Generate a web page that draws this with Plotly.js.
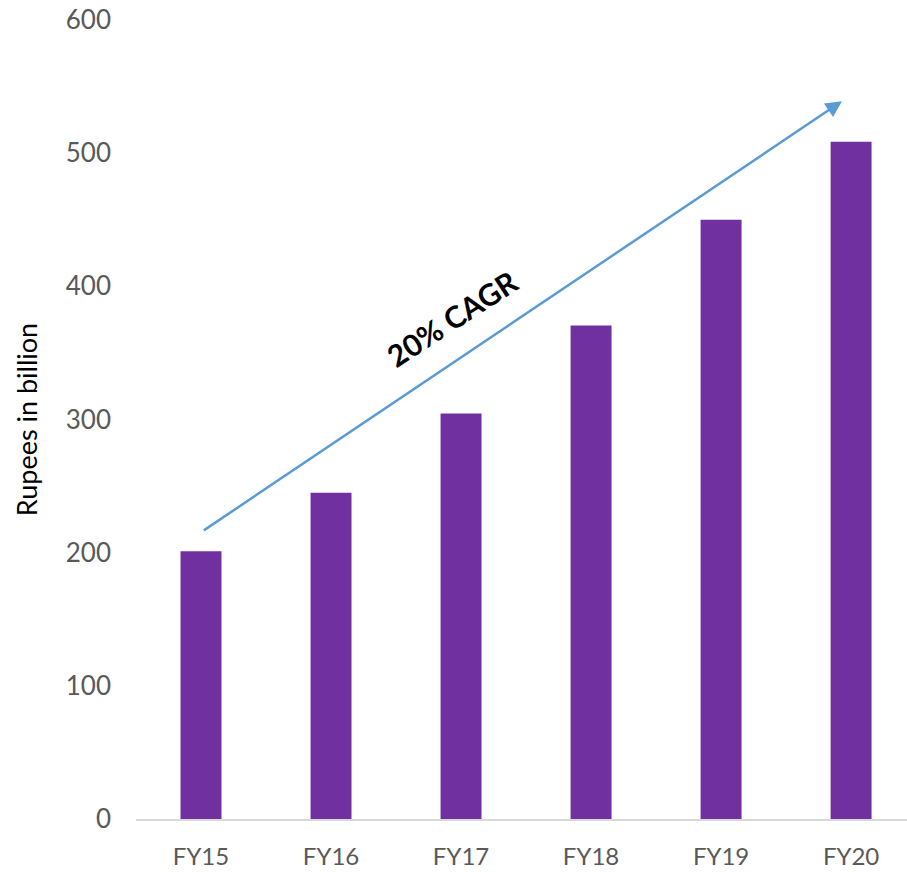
<!DOCTYPE html>
<html>
<head>
<meta charset="utf-8">
<script src="https://cdn.plot.ly/plotly-3.0.1.min.js"></script>
<style>html,body{margin:0;padding:0;overflow:hidden;background:#fff;}</style>
</head>
<body>
<div id="chart" style="width:907px;height:872px;"></div>
<script>
const categories = ["FY15", "FY16", "FY17", "FY18", "FY19", "FY20"];
const values = [201, 245, 304.5, 370.5, 450, 508.5];
const yTicks = [0, 100, 200, 300, 400, 500, 600];
const arrowStart = {x: 0.01, y: 216};
const arrowEnd = {x: 4.93, y: 539};
const cagrLabel = "20% CAGR";
const cagrPos = {x: 1.93, y: 376};

const font = "Lato, 'Open Sans', sans-serif";

Plotly.newPlot("chart", [{
  type: "bar",
  x: categories,
  y: values,
  marker: {color: "#7030a0"},
  hoverinfo: "skip"
}], {
  width: 907,
  height: 872,
  margin: {l: 136, r: 0, t: 20, b: 52.5},
  paper_bgcolor: "#fff",
  plot_bgcolor: "#fff",
  bargap: 0.685,
  showlegend: false,
  xaxis: {
    type: "category",
    range: [-0.5, 5.43],
    showgrid: false,
    zeroline: false,
    showline: true,
    linecolor: "#d9d9d9",
    linewidth: 1.5,
    ticks: "",
    ticklabelstandoff: 16,
    tickfont: {family: font, size: 24, color: "#595959"}
  },
  yaxis: {
    range: [0, 600],
    tickvals: yTicks,
    showgrid: false,
    zeroline: false,
    showline: false,
    ticks: "",
    ticklabelstandoff: 24,
    tickfont: {family: font, size: 26, color: "#595959"},
    title: {text: "Rupees in billion", standoff: 20, font: {family: font, size: 27, color: "#000"}}
  },
  annotations: [
    {
      x: arrowEnd.x, y: arrowEnd.y, xref: "x", yref: "y",
      ax: arrowStart.x, ay: arrowStart.y, axref: "x", ayref: "y",
      showarrow: true, arrowhead: 2, arrowsize: 1.3, arrowwidth: 2.5,
      arrowcolor: "#5b9bd5", text: ""
    },
    {
      x: cagrPos.x, y: cagrPos.y, xref: "x", yref: "y",
      text: "<b>" + cagrLabel + "</b>", showarrow: false, textangle: -33,
      font: {family: font, size: 30, color: "#000"}
    }
  ]
}, {displayModeBar: false, staticPlot: true});
</script>
</body>
</html>
